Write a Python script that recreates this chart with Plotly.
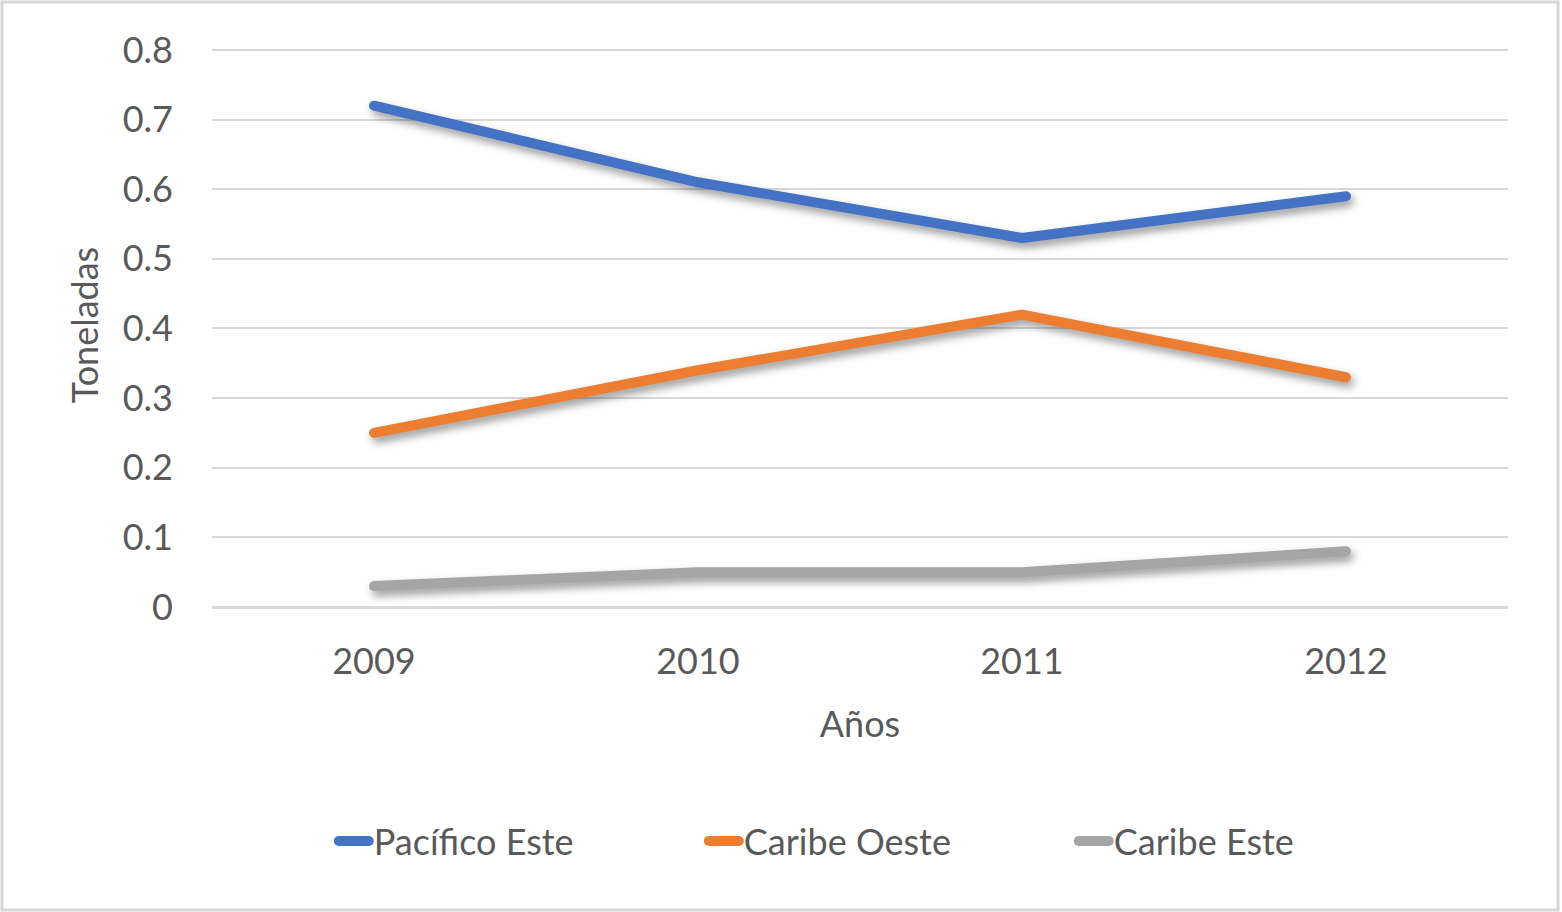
import plotly.graph_objects as go

years = ["2009", "2010", "2011", "2012"]
pacifico_este = [0.72, 0.61, 0.53, 0.59]
caribe_oeste = [0.25, 0.34, 0.42, 0.33]
caribe_este = [0.03, 0.05, 0.05, 0.08]
y_ticks = [0, 0.1, 0.2, 0.3, 0.4, 0.5, 0.6, 0.7, 0.8]
y_tick_text = ["0", "0.1", "0.2", "0.3", "0.4", "0.5", "0.6", "0.7", "0.8"]

series = [
    ("Pacífico Este", pacifico_este, "#4472C4"),
    ("Caribe Oeste", caribe_oeste, "#ED7D31"),
    ("Caribe Este", caribe_este, "#A5A5A5"),
]

text_color = "#595959"
font_family = "Lato, 'Open Sans', sans-serif"

fig = go.Figure()
for name, vals, col in series:
    fig.add_trace(go.Scatter(
        x=years, y=vals, name=name, mode="lines",
        line=dict(color=col, width=10, shape="linear"),
    ))

# plot box: 1296 x 564 px, 0..0.81 so the 0.8 grid line is drawn
fig.update_layout(
    width=1562, height=912,
    paper_bgcolor="white", plot_bgcolor="white",
    margin=dict(l=212, r=54, t=43, b=305),
    font=dict(family=font_family, size=36, color=text_color),
    showlegend=True,
    legend=dict(
        orientation="h", x=0.094, xanchor="left", y=-0.415, yanchor="middle",
        font=dict(size=36, color=text_color), entrywidth=325, entrywidthmode="pixels",
        traceorder="normal",
    ),
    xaxis=dict(
        type="category", range=[-0.5, 3.5],
        showgrid=False, showline=False, zeroline=False,
        ticks="", ticklabelstandoff=30,
        title=dict(text="Años", standoff=30, font=dict(size=36, color=text_color)),
    ),
    yaxis=dict(
        range=[0, 0.81], tickvals=y_ticks, ticktext=y_tick_text,
        showgrid=True, gridcolor="#D9D9D9", gridwidth=2,
        showline=False, zeroline=True, zerolinecolor="#D9D9D9", zerolinewidth=3,
        ticks="", ticklabelstandoff=38,
        title=dict(text="Toneladas", standoff=13, font=dict(size=36, color=text_color)),
    ),
    shapes=[dict(
        type="rect", xref="paper", yref="paper",
        x0=-210 / 1296, x1=1 + 50 / 1296, y0=-303 / 564, y1=1 + 41 / 564,
        line=dict(color="#D9D9D9", width=3), fillcolor="rgba(0,0,0,0)", layer="below",
    )],
)

# page margin off, round line caps and a soft drop shadow like the original
post = """
document.body.style.margin = '0';
var st = document.createElement('style');
st.innerHTML = '.scatterlayer path.js-line{stroke-linecap:round;stroke-linejoin:round;'
  + 'filter:drop-shadow(3px 5px 4px rgba(0,0,0,0.4));}'
  + '.legendlines path{stroke-linecap:round;}';
document.head.appendChild(st);
"""

fig.write_html("out.html", post_script=post, config={"displayModeBar": False})
